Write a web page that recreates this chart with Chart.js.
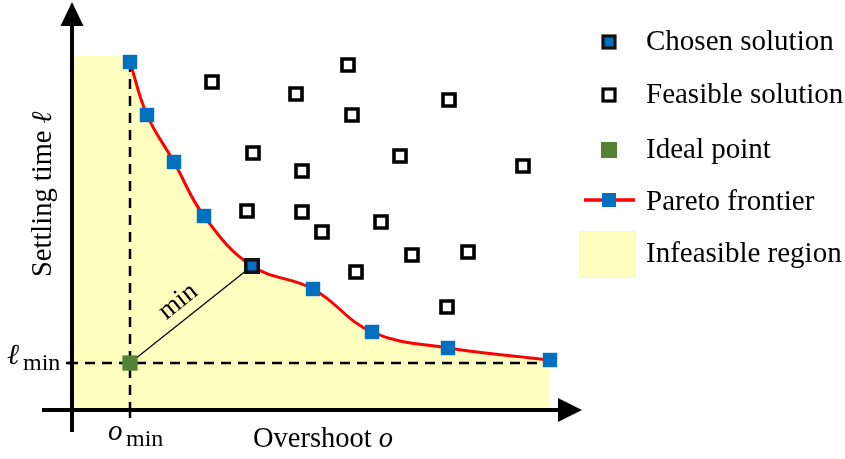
<!DOCTYPE html>
<html>
<head>
<meta charset="utf-8">
<script src="https://cdn.jsdelivr.net/npm/chart.js@4"></script>
<style>
  html, body { margin: 0; padding: 0; background: #fff; }
  canvas { display: block; }
</style>
</head>
<body>
<canvas id="chart" width="845" height="459"></canvas>
<script>
// overshoot (x) / settling time (y), arbitrary units, origin at the axes crossing
const paretoX = [5.8, 7.5, 10.2, 13.2, 18.0, 24.1, 30.0, 37.6, 47.8];
const paretoY = [34.8, 29.5, 24.8, 19.4, 14.4, 12.1, 7.8, 6.2, 5.0];

const feasibleX = [14.0, 27.6, 22.4, 28.0, 18.1, 23.0, 37.7, 32.8, 45.1, 17.5, 23.0, 25.0, 30.9, 28.4, 34.0, 39.6, 37.5];
const feasibleY = [32.8, 34.5, 31.6, 29.5, 25.7, 23.9, 31.0, 25.4, 24.4, 19.9, 19.8, 17.8, 18.8, 13.8, 15.5, 15.8, 10.3];

const chosenX = [18.0];
const chosenY = [14.4];
const idealX = [5.8];
const idealY = [4.7];
const regionTop = 35.4;

const legendLabels = ['Chosen solution', 'Feasible solution', 'Ideal point', 'Pareto frontier', 'Infeasible region'];

const BLUE = '#0070C0';
const GREEN = '#548235';
const YELLOW = '#FFFFC0';
const SERIF = '"Liberation Serif", "Times New Roman", serif';

function pts(xs, ys) {
  return xs.map((x, i) => ({ x, y: ys[i] }));
}

const lastX = paretoX[paretoX.length - 1];

const diagram = {
  id: 'diagram',
  afterDatasetsDraw(chart) {
    const { ctx, scales: { x, y } } = chart;
    const x0 = x.getPixelForValue(0);
    const y0 = y.getPixelForValue(0);
    ctx.save();

    // axes
    ctx.strokeStyle = '#000';
    ctx.fillStyle = '#000';
    ctx.lineWidth = 4;
    const yTip = y.getPixelForValue(40.8), yBase = y.getPixelForValue(38.5);
    const xTip = x.getPixelForValue(51.0), xBase = x.getPixelForValue(48.7);
    ctx.beginPath();
    ctx.moveTo(x0, y.getPixelForValue(-2.2));
    ctx.lineTo(x0, yBase);
    ctx.moveTo(x.getPixelForValue(-3.0), y0);
    ctx.lineTo(xBase, y0);
    ctx.stroke();
    ctx.beginPath();
    ctx.moveTo(x0, yTip);
    ctx.lineTo(x0 - 11.5, yBase + 1);
    ctx.lineTo(x0 + 11.5, yBase + 1);
    ctx.closePath();
    ctx.fill();
    ctx.beginPath();
    ctx.moveTo(xTip, y0);
    ctx.lineTo(xBase - 1, y0 - 12);
    ctx.lineTo(xBase - 1, y0 + 12);
    ctx.closePath();
    ctx.fill();

    // ticks at o_min and l_min
    const ox = x.getPixelForValue(idealX[0]);
    const ly = y.getPixelForValue(idealY[0]);
    ctx.lineWidth = 2.5;
    ctx.beginPath();
    ctx.moveTo(ox, y0);
    ctx.lineTo(ox, y0 + 8);
    ctx.moveTo(x0, ly);
    ctx.lineTo(x0 - 6, ly);
    ctx.stroke();

    // tick labels
    ctx.textBaseline = 'alphabetic';
    ctx.textAlign = 'left';
    ctx.font = 'italic 29px ' + SERIF;
    ctx.fillText('o', ox - 22, 440);
    ctx.font = '24px ' + SERIF;
    ctx.fillText('min', ox - 4, 446);

    ctx.font = 'italic 29px ' + SERIF;
    ctx.fillText('ℓ', 7, ly + 1);
    ctx.font = '24px ' + SERIF;
    ctx.fillText('min', 23, ly + 7);

    // axis titles
    ctx.font = '28.5px ' + SERIF;
    const ov = 'Overshoot ';
    const ovw = ctx.measureText(ov).width;
    ctx.fillText(ov, 253, 447);
    ctx.font = 'italic 28.5px ' + SERIF;
    ctx.fillText('o', 253 + ovw, 447);

    ctx.save();
    ctx.translate(51, 277);
    ctx.rotate(-Math.PI / 2);
    ctx.font = '28.5px ' + SERIF;
    const st = 'Settling time ';
    const stw = ctx.measureText(st).width;
    ctx.fillText(st, 0, 0);
    ctx.font = 'italic 28.5px ' + SERIF;
    ctx.fillText('ℓ', stw, 0);
    ctx.restore();

    // "min" label along the distance line
    const cx = x.getPixelForValue(chosenX[0]);
    const cy = y.getPixelForValue(chosenY[0]);
    const ang = Math.atan2(cy - ly, cx - ox);
    ctx.save();
    ctx.translate((ox + cx) / 2, (ly + cy) / 2);
    ctx.rotate(ang);
    ctx.textAlign = 'center';
    ctx.font = '27px ' + SERIF;
    ctx.fillText('min', -2, -11);
    ctx.restore();

    // legend
    const mx = 609;
    const rows = [42, 95, 150, 200, 254];
    const base = [50, 103, 158, 210, 262];
    // chosen
    ctx.fillStyle = BLUE;
    ctx.fillRect(mx - 6, rows[0] - 6, 12, 12);
    ctx.lineWidth = 3.2;
    ctx.strokeStyle = '#111';
    ctx.strokeRect(mx - 6, rows[0] - 6, 12, 12);
    // feasible
    ctx.fillStyle = '#fff';
    ctx.fillRect(mx - 6, rows[1] - 6, 12, 12);
    ctx.strokeStyle = '#000';
    ctx.strokeRect(mx - 6, rows[1] - 6, 12, 12);
    // ideal
    ctx.fillStyle = GREEN;
    ctx.fillRect(mx - 8, rows[2] - 8, 16, 16);
    // pareto
    ctx.strokeStyle = '#FF0000';
    ctx.lineWidth = 3.5;
    ctx.beginPath();
    ctx.moveTo(584, rows[3]);
    ctx.lineTo(635, rows[3]);
    ctx.stroke();
    ctx.fillStyle = BLUE;
    ctx.fillRect(mx - 7, rows[3] - 7, 14, 14);
    // infeasible
    ctx.fillStyle = YELLOW;
    ctx.fillRect(579, 231, 57, 47);
    ctx.strokeStyle = '#FFFF9A';
    ctx.lineWidth = 1;
    ctx.strokeRect(579.5, 231.5, 56, 46);

    ctx.fillStyle = '#000';
    ctx.font = '29px ' + SERIF;
    ctx.textAlign = 'left';
    legendLabels.forEach((t, i) => ctx.fillText(t, 646, base[i]));

    ctx.restore();
  }
};

new Chart(document.getElementById('chart'), {
  type: 'scatter',
  data: {
    datasets: [
      {
        label: 'chosen',
        data: pts(chosenX, chosenY),
        pointStyle: 'rect',
        pointRadius: 8.8,
        pointBackgroundColor: BLUE,
        pointBorderColor: '#111',
        pointBorderWidth: 3.5,
      },
      {
        label: 'ideal',
        data: pts(idealX, idealY),
        pointStyle: 'rect',
        pointRadius: 10.8,
        pointBackgroundColor: GREEN,
        pointBorderWidth: 0,
      },
      {
        label: 'feasible',
        data: pts(feasibleX, feasibleY),
        pointStyle: 'rect',
        pointRadius: 8.5,
        pointBackgroundColor: '#fff',
        pointBorderColor: '#000',
        pointBorderWidth: 3.6,
      },
      {
        label: 'pareto',
        data: pts(paretoX, paretoY),
        showLine: true,
        tension: 0.4,
        borderColor: '#FF0000',
        borderWidth: 3,
        backgroundColor: YELLOW,
        fill: 'origin',
        pointStyle: 'rect',
        pointRadius: 10.2,
        pointBackgroundColor: BLUE,
        pointBorderWidth: 0,
      },
      {
        label: 'distance',
        data: [{ x: idealX[0], y: idealY[0] }, { x: chosenX[0], y: chosenY[0] }],
        showLine: true,
        borderColor: '#000',
        borderWidth: 1.2,
        pointRadius: 0,
      },
      {
        label: 'omin',
        data: [{ x: idealX[0], y: paretoY[0] }, { x: idealX[0], y: 0 }],
        showLine: true,
        borderColor: '#000',
        borderWidth: 2.5,
        borderDash: [10, 7],
        pointRadius: 0,
      },
      {
        label: 'lmin',
        data: [{ x: -0.4, y: idealY[0] }, { x: lastX, y: idealY[0] }],
        showLine: true,
        borderColor: '#000',
        borderWidth: 2.5,
        borderDash: [10, 7],
        pointRadius: 0,
      },
      {
        label: 'region',
        data: [{ x: 0, y: regionTop }, { x: paretoX[0], y: regionTop }],
        showLine: true,
        borderWidth: 0,
        borderColor: 'rgba(0,0,0,0)',
        backgroundColor: YELLOW,
        fill: 'origin',
        pointRadius: 0,
      },
    ],
  },
  options: {
    responsive: false,
    animation: false,
    layout: { padding: 0, autoPadding: false },
    plugins: {
      legend: { display: false },
      tooltip: { enabled: false },
      filler: { drawTime: 'beforeDatasetsDraw' },
    },
    scales: {
      x: { type: 'linear', display: false, min: -7.2, max: 77.3 },
      y: { type: 'linear', display: false, min: -4.9, max: 41.0 },
    },
  },
  plugins: [diagram],
});
</script>
</body>
</html>
